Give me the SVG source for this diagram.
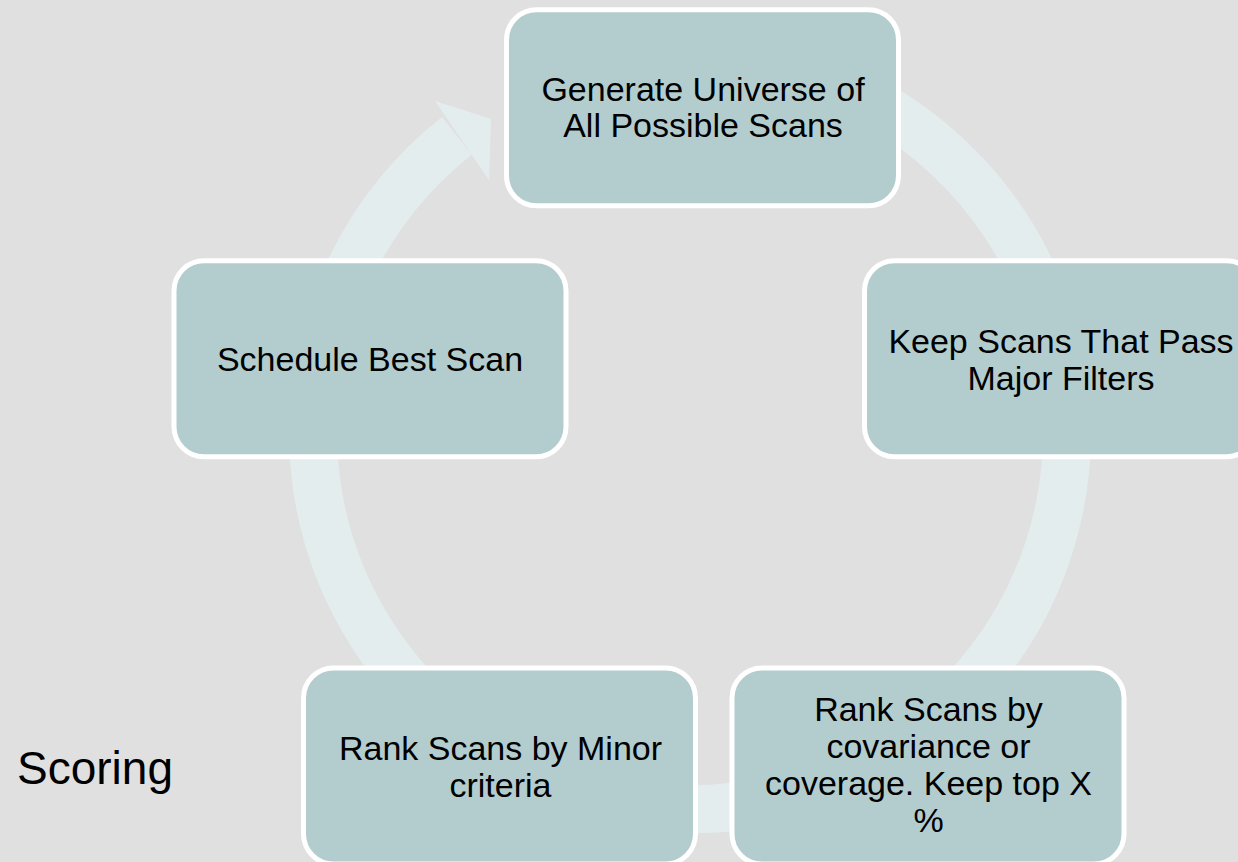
<svg xmlns="http://www.w3.org/2000/svg" width="1238" height="862" viewBox="0 0 1238 862">
<style>
.node rect{fill:#b3cdcf;stroke:#ffffff;stroke-width:5}
.t{font-family:"Liberation Sans",Arial,sans-serif;font-size:34px;fill:#000;text-anchor:middle}
.ring{fill:none;stroke:#e4eded;stroke-width:48;stroke-linecap:butt}
</style>
<rect x="0" y="0" width="1238" height="862" fill="#e0e0e0"/>
<g id="connectors">
<path class="ring" d="M 637.53 58.73 A 377 377 0 1 1 456.9 135.8"/>
<polygon points="435,101 491,119 489,180" fill="#e4eded"/>
</g>
<g id="node-generate" class="node">
<rect x="506.5" y="9.8" width="392" height="196" rx="30"/>
<text class="t" x="703" y="101">Generate Universe of</text>
<text class="t" x="703" y="137">All Possible Scans</text>
</g>
<g id="node-keep" class="node">
<rect x="864.5" y="260.8" width="392" height="196" rx="30"/>
<text class="t" x="1061" y="353">Keep Scans That Pass</text>
<text class="t" x="1061" y="389.5">Major Filters</text>
</g>
<g id="node-rank-cov" class="node">
<rect x="732" y="668" width="392" height="196" rx="30"/>
<text class="t" x="928.5" y="721">Rank Scans by</text>
<text class="t" x="928.5" y="758">covariance or</text>
<text class="t" x="928.5" y="795">coverage. Keep top X</text>
<text class="t" x="928.5" y="832">%</text>
</g>
<g id="node-rank-minor" class="node">
<rect x="303.5" y="668" width="392" height="196" rx="30"/>
<text class="t" x="500.5" y="760">Rank Scans by Minor</text>
<text class="t" x="500.5" y="797">criteria</text>
</g>
<g id="node-schedule" class="node">
<rect x="174" y="260.8" width="392" height="196" rx="30"/>
<text class="t" x="370" y="371">Schedule Best Scan</text>
</g>
<text id="label-scoring" x="17" y="784" font-family="Liberation Sans, Arial, sans-serif" font-size="46" fill="#000">Scoring</text>
</svg>
